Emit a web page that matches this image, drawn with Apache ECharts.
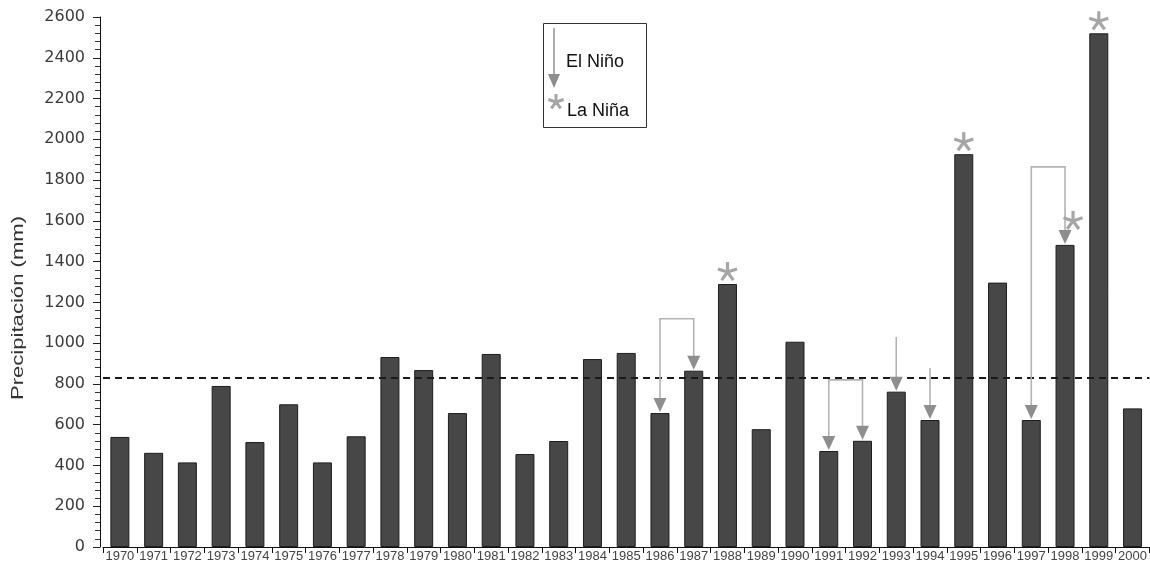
<!DOCTYPE html>
<html>
<head>
<meta charset="utf-8">
<script src="https://cdn.jsdelivr.net/npm/echarts@6/dist/echarts.min.js"></script>
<style>html,body{margin:0;padding:0;background:#fff}#c{width:1150px;height:567px}</style>
</head>
<body>
<div id="c"></div>
<script>
// ---- data ----
const years = ['1970','1971','1972','1973','1974','1975','1976','1977','1978','1979','1980','1981','1982','1983','1984','1985','1986','1987','1988','1989','1990','1991','1992','1993','1994','1995','1996','1997','1998','1999','2000'];
const precip = [540,462,415,790,515,700,415,543,932,868,657,947,456,520,922,952,657,865,1290,578,1007,471,521,762,623,1927,1297,623,1482,2520,680];
const meanPrecip = 830;
const yMin = 0, yMax = 2600, yStep = 200;
// El Niño brackets: [first year, second year, top of bracket (mm)]
const ninoBrackets = [['1986','1987',1120],['1991','1992',820],['1997','1998',1865]];
// El Niño single arrows: [year, start of arrow (mm)]
const ninoSingles = [['1993',1030],['1994',878]];
// La Niña years
const ninaYears = ['1988','1995','1998','1999'];
const yAxisName = 'Precipitación (mm)';
const legendNino = 'El Niño', legendNina = 'La Niña';

// ---- build ----
const idx = y => years.indexOf(y);
const arrowData = [];
ninoBrackets.forEach(b => arrowData.push([idx(b[0]), idx(b[1]), b[2], precip[idx(b[0])], precip[idx(b[1])]]));
ninoSingles.forEach(s => arrowData.push([idx(s[0]), idx(s[0]), s[1], precip[idx(s[0])], precip[idx(s[0])]]));
const arrowYears = new Set();
arrowData.forEach(d => { arrowYears.add(d[0]); arrowYears.add(d[1]); });
const starData = ninaYears.map(y => [idx(y), precip[idx(y)]]);

const LINE_C = '#b3b3b3', HEAD_C = '#8e8e8e', STAR_C = '#a6a6a6';
const HW = 6.5, HH = 14;

function head(x, y) {
  return { type: 'polygon', shape: { points: [[x - HW, y - HH], [x + HW, y - HH], [x, y]] }, style: { fill: HEAD_C } };
}
function starEls(cx, cy, r, lw, z) {
  const els = [];
  for (let k = 0; k < 5; k++) {
    const ang = -Math.PI / 2 + k * 2 * Math.PI / 5;
    const el = { type: 'line', shape: { x1: cx, y1: cy, x2: cx + r * Math.cos(ang), y2: cy + r * Math.sin(ang) },
      style: { stroke: STAR_C, lineWidth: lw, lineCap: 'butt' } };
    if (z !== undefined) el.z = z;
    els.push(el);
  }
  return els;
}

const chart = echarts.init(document.getElementById('c'), null, { renderer: 'canvas' });
chart.setOption({
  animation: false,
  backgroundColor: '#fff',
  grid: { left: 103, right: 0, top: 17, bottom: 20, containLabel: false },
  xAxis: {
    type: 'category', data: years,
    axisLine: { show: true, lineStyle: { color: '#111', width: 1 } },
    axisTick: { show: true, length: 6, lineStyle: { color: '#111' } },
    axisLabel: { interval: 0, margin: 3, fontFamily: 'Liberation Sans', fontSize: 13, color: '#444' }
  },
  yAxis: {
    type: 'value', min: yMin, max: yMax, interval: yStep, offset: 3,
    axisLine: { show: true, lineStyle: { color: '#111', width: 1 } },
    axisTick: { show: true, length: 7, lineStyle: { color: '#222' } },
    minorTick: { show: true, splitNumber: 5, length: 5, lineStyle: { color: '#333' } },
    splitLine: { show: false },
    axisLabel: { margin: 15, fontFamily: 'DejaVu Sans', fontSize: 16, color: '#3a3a3a', formatter: v => String(v) }
  },
  series: [
    {
      type: 'bar', data: precip, barWidth: 19,
      itemStyle: { color: '#474747', borderColor: '#1e1e1e', borderWidth: 1 },
      markLine: {
        silent: true, symbol: 'none', label: { show: false },
        lineStyle: { color: '#1a1a1a', width: 2, type: [7, 5] },
        data: [{ yAxis: meanPrecip }]
      }
    },
    {
      type: 'custom', data: arrowData, encode: { x: 0, y: 2 }, z: 5,
      renderItem: function (params, api) {
        const a0 = api.coord([api.value(0), api.value(2)]);
        const b0 = api.coord([api.value(1), api.value(2)]);
        const aT = api.coord([api.value(0), api.value(3)]);
        const bT = api.coord([api.value(1), api.value(4)]);
        const st = { stroke: LINE_C, lineWidth: 1.6 };
        const ch = [];
        if (api.value(0) === api.value(1)) {
          ch.push({ type: 'line', shape: { x1: a0[0], y1: a0[1], x2: aT[0], y2: aT[1] - HH }, style: st });
          ch.push(head(aT[0], aT[1] - 1));
        } else {
          ch.push({ type: 'polyline', shape: { points: [[aT[0], aT[1] - HH], [a0[0], a0[1]], [b0[0], b0[1]], [bT[0], bT[1] - HH]] }, style: Object.assign({ fill: 'none' }, st) });
          ch.push(head(aT[0], aT[1] - 1));
          ch.push(head(bT[0], bT[1] - 1));
        }
        return { type: 'group', children: ch };
      }
    },
    {
      type: 'custom', data: starData, encode: { x: 0, y: 1 }, z: 6,
      renderItem: function (params, api) {
        const p = api.coord([api.value(0), api.value(1)]);
        const shifted = arrowYears.has(api.value(0));
        const cx = p[0] + (shifted ? 8 : 0);
        const cy = p[1] - (shifted ? 24 : 12);
        return { type: 'group', children: starEls(cx, cy, 10, 3.2) };
      }
    }
  ],
  graphic: [
    { type: 'text', x: 18, y: 308, rotation: Math.PI / 2, scaleX: 1.3,
      style: { text: yAxisName, fontFamily: 'Liberation Sans', fontSize: 17, fill: '#333', align: 'center', verticalAlign: 'middle' } },
    { type: 'rect', shape: { x: 543.5, y: 23.5, width: 103, height: 104 }, style: { fill: '#fff', stroke: '#333', lineWidth: 1 }, z: 10 },
    { type: 'line', shape: { x1: 554, y1: 28, x2: 554, y2: 75 }, style: { stroke: '#9a9a9a', lineWidth: 1.6 }, z: 11 },
    { type: 'polygon', shape: { points: [[548, 74], [560, 74], [554, 88]] }, style: { fill: HEAD_C }, z: 11 },
    { type: 'text', x: 566, y: 62, style: { text: legendNino, fontFamily: 'Liberation Sans', fontSize: 18, fill: '#111', verticalAlign: 'middle' }, z: 11 },
    ...starEls(556, 102, 8, 3, 12),
    { type: 'text', x: 567, y: 111, style: { text: legendNina, fontFamily: 'Liberation Sans', fontSize: 18, fill: '#111', verticalAlign: 'middle' }, z: 11 }
  ]
});
</script>
</body>
</html>
